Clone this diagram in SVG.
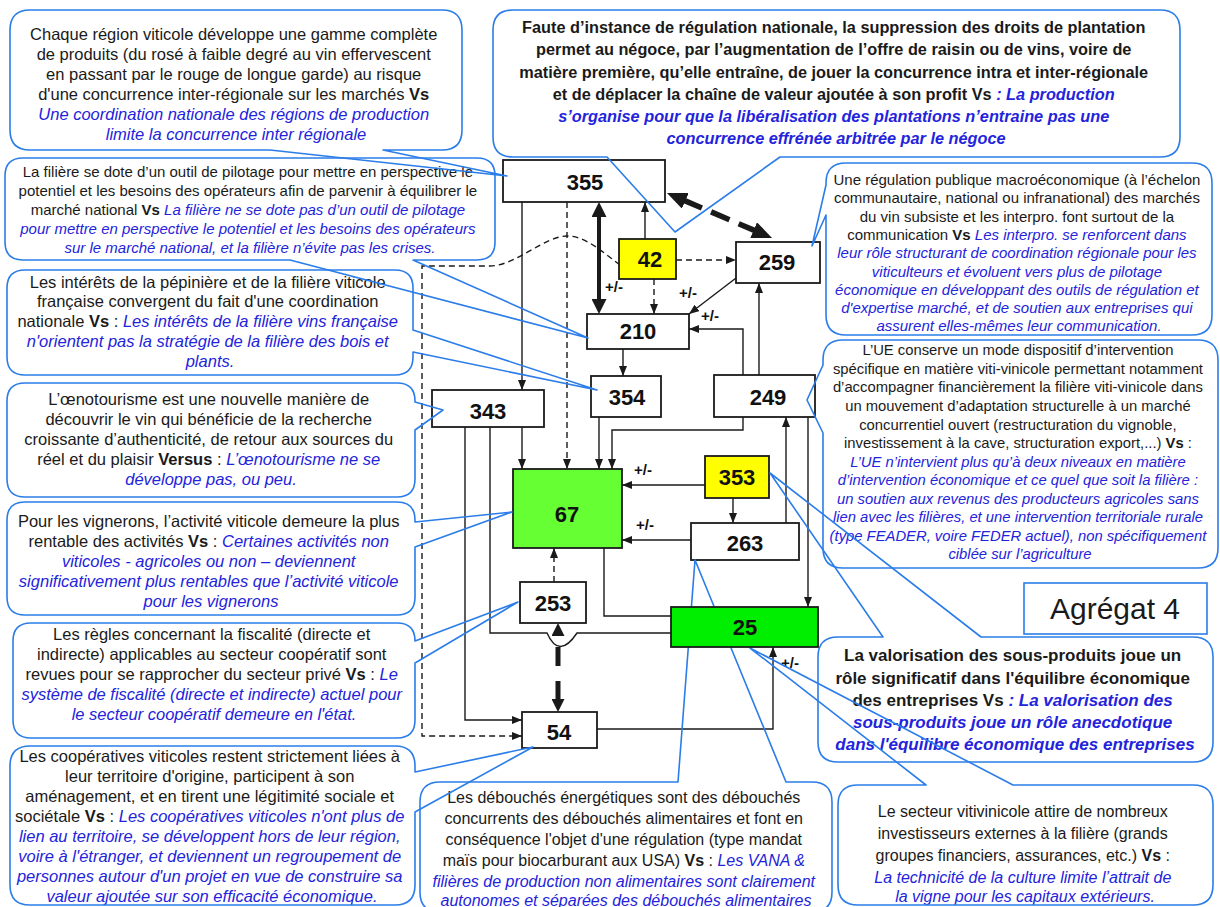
<svg xmlns="http://www.w3.org/2000/svg" width="1220" height="907" viewBox="0 0 1220 907">
<style>
.t{font-family:"Liberation Sans",Arial,sans-serif;fill:#1a1a1a;text-anchor:middle}
.b{font-weight:bold}
.i{font-style:italic;fill:#2323dc}
.bf{fill:#fff}
.bo{fill:none;stroke:#2b7de9;stroke-width:1.6;stroke-linejoin:round}
.nd{stroke:#1a1a1a;stroke-width:1.8}
.num{font-family:"Liberation Sans",Arial,sans-serif;font-weight:bold;font-size:22px;fill:#111;text-anchor:middle}
.c{fill:none;stroke:#1a1a1a;stroke-width:1.4}
.d{stroke-dasharray:6 4}
.k4{stroke-width:4}
.k5{stroke-width:5.5;stroke-dasharray:20 10}
.k6{stroke-width:5;stroke-dasharray:0 11 19 15 19 100}
.pm{font-family:"Liberation Sans",Arial,sans-serif;font-weight:bold;font-size:15px;fill:#111}
</style>
<defs>
<marker id="a" viewBox="0 0 10 8" markerWidth="10" markerHeight="8" refX="10" refY="4" orient="auto" markerUnits="userSpaceOnUse"><path d="M0,0 L10,4 L0,8 z" fill="#1a1a1a"/></marker>
<marker id="ta" viewBox="0 0 15 15" markerWidth="15" markerHeight="15" refX="1" refY="7.5" orient="auto-start-reverse" markerUnits="userSpaceOnUse"><path d="M0,0 L15,7.5 L0,15 z" fill="#1a1a1a"/></marker>
<marker id="ba" viewBox="0 0 20 17" markerWidth="20" markerHeight="17" refX="2" refY="8.5" orient="auto-start-reverse" markerUnits="userSpaceOnUse"><path d="M0,0 L20,8.5 L0,17 z" fill="#1a1a1a"/></marker>
<marker id="ma" viewBox="0 0 13 13" markerWidth="13" markerHeight="13" refX="0" refY="6.5" orient="auto-start-reverse" markerUnits="userSpaceOnUse"><path d="M0,0 L13,6.5 L0,13 z" fill="#1a1a1a"/></marker>
</defs>
<rect width="1220" height="907" fill="#fff"/>

<!-- callout bodies -->
<g id="callout-fills" class="bf">
<rect x="10" y="10" width="452" height="140" rx="20"/>
<rect x="5" y="158" width="490" height="102" rx="18"/>
<rect x="7" y="270" width="406" height="105" rx="18"/>
<rect x="7" y="383" width="408" height="114" rx="18"/>
<rect x="7" y="502" width="408" height="113" rx="18"/>
<rect x="13" y="623" width="402" height="115" rx="18"/>
<rect x="10" y="746" width="405" height="159" rx="20"/>
<rect x="420" y="782" width="412" height="130" rx="20"/>
<rect x="838" y="785" width="375" height="120" rx="20"/>
<rect x="818" y="637" width="395" height="125" rx="20"/>
<rect x="493" y="10" width="687" height="147" rx="20"/>
<rect x="826" y="163" width="386" height="172" rx="20"/>
<rect x="823" y="340" width="395" height="228" rx="20"/>
</g>

<!-- callout texts -->
<g id="callout-texts" class="t">
<text font-size="16.5">
<tspan x="236" y="40">Chaque région viticole développe une gamme complète</tspan>
<tspan x="236" y="60">de produits (du rosé à faible degré au vin effervescent</tspan>
<tspan x="236" y="80">en passant par le rouge de longue garde) au risque</tspan>
<tspan x="236" y="100">d'une concurrence inter-régionale sur les marchés <tspan class="b">Vs</tspan></tspan>
<tspan x="236" y="120" class="i">Une coordination nationale des régions de production</tspan>
<tspan x="236" y="140" class="i">limite la concurrence inter régionale</tspan>
</text>
<text font-size="15">
<tspan x="250" y="177">La filière se dote d’un outil de pilotage pour mettre en perspective le</tspan>
<tspan x="250" y="196">potentiel et les besoins des opérateurs afin de parvenir à équilibrer le</tspan>
<tspan x="250" y="215">marché national <tspan class="b">Vs</tspan> <tspan class="i">La filière ne se dote pas d’un outil de pilotage</tspan></tspan>
<tspan x="250" y="234" class="i">pour mettre en perspective le potentiel et les besoins des opérateurs</tspan>
<tspan x="250" y="253" class="i">sur le marché national, et la filière n’évite pas les crises.</tspan>
</text>
<text font-size="16.5">
<tspan x="210" y="288">Les intérêts de la pépinière et de la filière viticole</tspan>
<tspan x="210" y="307">française convergent du fait d'une coordination</tspan>
<tspan x="210" y="327">nationale <tspan class="b">Vs</tspan> : <tspan class="i">Les intérêts de la filière vins française</tspan></tspan>
<tspan x="210" y="347" class="i">n'orientent pas la stratégie de la filière des bois et</tspan>
<tspan x="210" y="367" class="i">plants.</tspan>
</text>
<text font-size="16.5">
<tspan x="211" y="405">L’œnotourisme est une nouvelle manière de</tspan>
<tspan x="211" y="425">découvrir le vin qui bénéficie de la recherche</tspan>
<tspan x="211" y="445">croissante d’authenticité, de retour aux sources du</tspan>
<tspan x="211" y="465">réel et du plaisir <tspan class="b">Versus</tspan> : <tspan class="i">L’œnotourisme ne se</tspan></tspan>
<tspan x="211" y="485" class="i">développe pas, ou peu.</tspan>
</text>
<text font-size="16.5">
<tspan x="211" y="527">Pour les vignerons, l’activité viticole demeure la plus</tspan>
<tspan x="211" y="547">rentable des activités <tspan class="b">Vs</tspan> : <tspan class="i">Certaines activités non</tspan></tspan>
<tspan x="211" y="567" class="i">viticoles - agricoles ou non – deviennent</tspan>
<tspan x="211" y="587" class="i">significativement plus rentables que l’activité viticole</tspan>
<tspan x="211" y="607" class="i">pour les vignerons</tspan>
</text>
<text font-size="16.5">
<tspan x="214" y="640">Les règles concernant la fiscalité (directe et</tspan>
<tspan x="214" y="660">indirecte) applicables au secteur coopératif sont</tspan>
<tspan x="214" y="680">revues pour se rapprocher du secteur privé <tspan class="b">Vs</tspan> : <tspan class="i">Le</tspan></tspan>
<tspan x="214" y="700" class="i">système de fiscalité (directe et indirecte) actuel pour</tspan>
<tspan x="214" y="720" class="i">le secteur coopératif demeure en l'état.</tspan>
</text>
<text font-size="16.5">
<tspan x="212" y="762">Les coopératives viticoles restent strictement liées à</tspan>
<tspan x="212" y="782">leur territoire d'origine, participent à son</tspan>
<tspan x="212" y="802">aménagement, et en tirent une légitimité sociale et</tspan>
<tspan x="212" y="822">sociétale <tspan class="b">Vs</tspan> : <tspan class="i">Les coopératives viticoles n'ont plus de</tspan></tspan>
<tspan x="212" y="842" class="i">lien au territoire, se développent hors de leur région,</tspan>
<tspan x="212" y="862" class="i">voire à l'étranger, et deviennent un regroupement de</tspan>
<tspan x="212" y="882" class="i">personnes autour d'un projet en vue de construire sa</tspan>
<tspan x="212" y="902" class="i">valeur ajoutée sur son efficacité économique.</tspan>
</text>
<text font-size="16">
<tspan x="626" y="803">Les débouchés énergétiques sont des débouchés</tspan>
<tspan x="626" y="824">concurrents des débouchés alimentaires et font en</tspan>
<tspan x="626" y="845">conséquence l'objet d'une régulation (type mandat</tspan>
<tspan x="626" y="866">maïs pour biocarburant aux USA) <tspan class="b">Vs</tspan> : <tspan class="i">Les VANA &amp;</tspan></tspan>
<tspan x="626" y="887" class="i">filières de production non alimentaires sont clairement</tspan>
<tspan x="626" y="906" class="i">autonomes et séparées des débouchés alimentaires</tspan>
</text>
<text font-size="16">
<tspan x="1025" y="817">Le secteur vitivinicole attire de nombreux</tspan>
<tspan x="1025" y="839">investisseurs externes à la filière (grands</tspan>
<tspan x="1025" y="861">groupes financiers, assurances, etc.) <tspan class="b">Vs</tspan> :</tspan>
<tspan x="1025" y="883" class="i">La technicité de la culture limite l’attrait de</tspan>
<tspan x="1025" y="902" class="i">la vigne pour les capitaux extérieurs.</tspan>
</text>
<text font-size="17" class="b">
<tspan x="1015" y="661">La valorisation des sous-produits joue un</tspan>
<tspan x="1015" y="684">rôle significatif dans l'équilibre économique</tspan>
<tspan x="1015" y="706">des entreprises Vs <tspan class="i">: La valorisation des</tspan></tspan>
<tspan x="1015" y="728" class="i">sous-produits joue un rôle anecdotique</tspan>
<tspan x="1015" y="750" class="i">dans l'équilibre économique des entreprises</tspan>
</text>
<text font-size="16.3" class="b">
<tspan x="836" y="33">Faute d’instance de régulation nationale, la suppression des droits de plantation</tspan>
<tspan x="836" y="55">permet au négoce, par l’augmentation de l’offre de raisin ou de vins, voire de</tspan>
<tspan x="836" y="78">matière première, qu’elle entraîne, de jouer la concurrence intra et inter-régionale</tspan>
<tspan x="836" y="100">et de déplacer la chaîne de valeur ajoutée à son profit Vs <tspan class="i">: La production</tspan></tspan>
<tspan x="836" y="122" class="i">s’organise pour que la libéralisation des plantations n’entraine pas une</tspan>
<tspan x="836" y="144" class="i">concurrence effrénée arbitrée par le négoce</tspan>
</text>
<text font-size="15">
<tspan x="1019" y="185">Une régulation publique macroéconomique (à l’échelon</tspan>
<tspan x="1019" y="203">communautaire, national ou infranational)  des marchés</tspan>
<tspan x="1019" y="222">du vin subsiste et les interpro. font surtout de la</tspan>
<tspan x="1019" y="240">communication <tspan class="b">Vs</tspan> <tspan class="i">Les interpro. se renforcent dans</tspan></tspan>
<tspan x="1019" y="258" class="i">leur rôle structurant de coordination régionale pour les</tspan>
<tspan x="1019" y="277" class="i">viticulteurs et évoluent vers plus de pilotage</tspan>
<tspan x="1019" y="295" class="i">économique en développant des outils de régulation et</tspan>
<tspan x="1019" y="313" class="i">d'expertise marché, et de soutien aux entreprises qui</tspan>
<tspan x="1019" y="331" class="i">assurent elles-mêmes leur communication.</tspan>
</text>
<text font-size="14.8">
<tspan x="1020" y="355">L’UE conserve un mode dispositif d’intervention</tspan>
<tspan x="1020" y="374">spécifique en matière viti-vinicole permettant notamment</tspan>
<tspan x="1020" y="392">d’accompagner financièrement la filière viti-vinicole dans</tspan>
<tspan x="1020" y="411">un mouvement d’adaptation structurelle à un marché</tspan>
<tspan x="1020" y="430">concurrentiel ouvert (restructuration du vignoble,</tspan>
<tspan x="1020" y="448">investissement à la cave, structuration export,...) <tspan class="b">Vs</tspan> :</tspan>
<tspan x="1020" y="467" class="i">L’UE n’intervient plus qu’à deux niveaux en matière</tspan>
<tspan x="1020" y="485" class="i">d’intervention économique et ce quel que soit la filière :</tspan>
<tspan x="1020" y="504" class="i">un soutien aux revenus des producteurs agricoles sans</tspan>
<tspan x="1020" y="522" class="i">lien avec les filières, et une intervention territoriale rurale</tspan>
<tspan x="1020" y="541" class="i">(type FEADER, voire FEDER actuel), non spécifiquement</tspan>
<tspan x="1020" y="559" class="i">ciblée sur l’agriculture</tspan>
</text>
</g>

<!-- title box -->
<g id="agregat">
<rect x="1024" y="583" width="183" height="51" fill="#fff" stroke="#2b7de9" stroke-width="1.6"/>
<text x="1115" y="619" class="t" font-size="30">Agrégat 4</text>
</g>

<!-- connectors -->
<g id="connectors">
<path class="c" d="M522,202 V390" marker-end="url(#a)"/>
<path class="c d" d="M567,202 V469" marker-end="url(#a)"/>
<path class="c k4" d="M599,216 V300" marker-start="url(#ta)" marker-end="url(#ta)"/>
<path class="c" d="M645,239 V202" marker-end="url(#a)"/>
<path class="c d" d="M676,260 H736" marker-end="url(#a)"/>
<path class="c d" d="M654,279 V314" marker-end="url(#a)"/>
<path class="c d" d="M620,265 C600,250 585,236 567,236 C545,236 515,266 490,266 H422 V736 H522" marker-end="url(#a)"/>
<path class="c k5" d="M683.5,200.1 L755.5,230.9" marker-start="url(#ba)" marker-end="url(#ba)"/>
<path class="c" d="M740,275 L689,314" marker-end="url(#a)"/>
<path class="c" d="M743,375 V329 H689" marker-end="url(#a)"/>
<path class="c" d="M759,375 V283" marker-end="url(#a)"/>
<path class="c" d="M623,349 V376" marker-end="url(#a)"/>
<path class="c" d="M522,427 V469" marker-end="url(#a)"/>
<path class="c" d="M465,427 V720 H522" marker-end="url(#a)"/>
<path class="c" d="M490,427 V633 H547 Q559,660 577,633 H671"/>
<path class="c" d="M599,417 V469" marker-end="url(#a)"/>
<path class="c" d="M743,417 V430 H612 V469" marker-end="url(#a)"/>
<path class="c" d="M705,485 H622" marker-end="url(#a)"/>
<path class="c" d="M733,498 V523" marker-end="url(#a)"/>
<path class="c" d="M786,523 V417" marker-end="url(#a)"/>
<path class="c" d="M808,417 V607" marker-end="url(#a)"/>
<path class="c" d="M691,540 H622" marker-end="url(#a)"/>
<path class="c d" d="M554,582 V548" marker-end="url(#a)"/>
<path class="c" d="M604,548 V616 H671"/>
<path class="c k6" d="M558,636 V699" marker-start="url(#ma)" marker-end="url(#ma)"/>
<path class="c" d="M597,729 H773 V647" marker-end="url(#a)"/>
<text class="pm" x="605" y="292">+/-</text>
<text class="pm" x="679" y="298">+/-</text>
<text class="pm" x="701" y="321">+/-</text>
<text class="pm" x="634" y="475">+/-</text>
<text class="pm" x="636" y="530">+/-</text>
<text class="pm" x="781" y="668">+/-</text>
</g>

<!-- nodes -->
<g id="n355"><rect class="nd" x="503" y="160" width="162" height="42" fill="#fff"/><text class="num" x="585" y="190">355</text></g>
<g id="n42"><rect class="nd" x="619" y="239" width="57" height="40" fill="#ffff00"/><text class="num" x="650" y="267">42</text></g>
<g id="n259"><rect class="nd" x="736" y="242" width="84" height="41" fill="#fff"/><text class="num" x="777" y="270">259</text></g>
<g id="n210"><rect class="nd" x="587" y="314" width="102" height="35" fill="#fff"/><text class="num" x="638" y="339">210</text></g>
<g id="n354"><rect class="nd" x="591" y="376" width="70" height="41" fill="#fff"/><text class="num" x="627" y="405">354</text></g>
<g id="n343"><rect class="nd" x="432" y="390" width="112" height="37" fill="#fff"/><text class="num" x="488" y="419">343</text></g>
<g id="n249"><rect class="nd" x="714" y="375" width="101" height="42" fill="#fff"/><text class="num" x="768" y="405">249</text></g>
<g id="n67"><rect class="nd" x="513" y="469" width="109" height="79" fill="#66ff33"/><text class="num" x="567" y="522">67</text></g>
<g id="n353"><rect class="nd" x="705" y="456" width="64" height="42" fill="#ffff00"/><text class="num" x="737" y="485">353</text></g>
<g id="n263"><rect class="nd" x="691" y="523" width="108" height="37" fill="#fff"/><text class="num" x="745" y="551">263</text></g>
<g id="n253"><rect class="nd" x="520" y="582" width="66" height="41" fill="#fff"/><text class="num" x="553" y="611">253</text></g>
<g id="n54"><rect class="nd" x="522" y="712" width="75" height="36" fill="#fff"/><text class="num" x="559" y="740">54</text></g>

<!-- callout outlines and pointers -->
<g id="callout-outlines" class="bo">
<path d="M270,150 L507,176 L383,150 H442 Q462,150 462,130 V30 Q462,10 442,10 H30 Q10,10 10,30 V130 Q10,150 30,150 Z"/>
<path d="M290,260 L588,338 L413,260 H477 Q495,260 495,242 V176 Q495,158 477,158 H23 Q5,158 5,176 V242 Q5,260 23,260 Z"/>
<path d="M413,330 L597,390 L413,352 V357 Q413,375 395,375 H25 Q7,375 7,357 V288 Q7,270 25,270 H395 Q413,270 413,288 Z"/>
<path d="M415,402 L443,410 L415,430 V479 Q415,497 397,497 H25 Q7,497 7,479 V401 Q7,383 25,383 H397 Q415,383 415,401 Z"/>
<path d="M415,522 L512,512 L415,547 V597 Q415,615 397,615 H25 Q7,615 7,597 V520 Q7,502 25,502 H397 Q415,502 415,520 Z"/>
<path d="M415,641 L518,602 L415,663 V720 Q415,738 397,738 H31 Q13,738 13,720 V641 Q13,623 31,623 H397 Q415,623 415,641 Z"/>
<path d="M415,772 L533,747 L415,812 V885 Q415,905 395,905 H30 Q10,905 10,885 V766 Q10,746 30,746 H395 Q415,746 415,766 Z"/>
<path d="M786,782 L695,560 L678,782 H440 Q420,782 420,802 V892 Q420,912 440,912 H812 Q832,912 832,892 V802 Q832,782 812,782 Z"/>
<path d="M1013,785 L750,648 L926,785 H858 Q838,785 838,805 V885 Q838,905 858,905 H1193 Q1213,905 1213,885 V805 Q1213,785 1193,785 Z"/>
<path d="M981,637 L770,473 L883,637 H838 Q818,637 818,657 V742 Q818,762 838,762 H1193 Q1213,762 1213,742 V657 Q1213,637 1193,637 Z"/>
<path d="M607,157 L675,232 L780,157 H1160 Q1180,157 1180,137 V30 Q1180,10 1160,10 H513 Q493,10 493,30 V137 Q493,157 513,157 Z"/>
<path d="M826,185 L812,246 L826,215 V315 Q826,335 846,335 H1192 Q1212,335 1212,315 V183 Q1212,163 1192,163 H846 Q826,163 826,183 Z"/>
<path d="M823,365 L807,400 L823,433 V548 Q823,568 843,568 H1198 Q1218,568 1218,548 V360 Q1218,340 1198,340 H843 Q823,340 823,360 Z"/>
</g>

<g id="n25"><rect class="nd" x="671" y="607" width="147" height="40" fill="#00ee00"/><text class="num" x="745" y="635">25</text></g>
</svg>
